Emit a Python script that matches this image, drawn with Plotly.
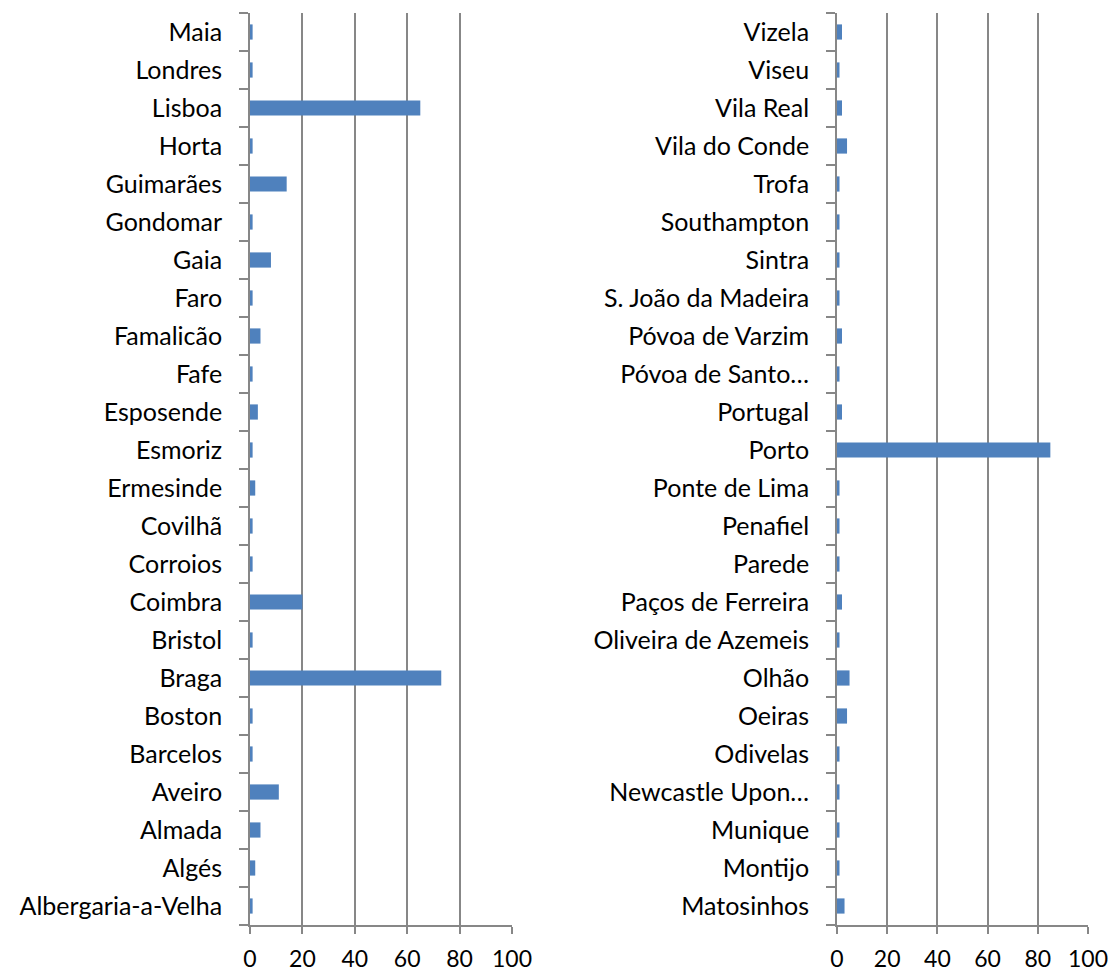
import plotly.graph_objects as go

# Cities A–Ma (listed bottom to top)
cities_left = [
    "Albergaria-a-Velha", "Algés", "Almada", "Aveiro", "Barcelos", "Boston",
    "Braga", "Bristol", "Coimbra", "Corroios", "Covilhã", "Ermesinde",
    "Esmoriz", "Esposende", "Fafe", "Famalicão", "Faro", "Gaia", "Gondomar",
    "Guimarães", "Horta", "Lisboa", "Londres", "Maia",
]
counts_left = [1, 2, 4, 11, 1, 1, 73, 1, 20, 1, 1, 2, 1, 3, 1, 4, 1, 8, 1, 14, 1, 65, 1, 1]

# Cities Ma–Z (listed bottom to top)
cities_right = [
    "Matosinhos", "Montijo", "Munique", "Newcastle Upon…", "Odivelas", "Oeiras",
    "Olhão", "Oliveira de Azemeis", "Paços de Ferreira", "Parede", "Penafiel",
    "Ponte de Lima", "Porto", "Portugal", "Póvoa de Santo…", "Póvoa de Varzim",
    "S. João da Madeira", "Sintra", "Southampton", "Trofa", "Vila do Conde",
    "Vila Real", "Viseu", "Vizela",
]
counts_right = [3, 1, 1, 1, 1, 4, 5, 1, 2, 1, 1, 1, 85, 2, 1, 2, 1, 1, 1, 1, 4, 2, 1, 2]

x_ticks = [0, 20, 40, 60, 80, 100]

W, H = 1109, 970
BAR = "#4F81BD"
GRID = "#878787"
FONT = "Lato"

fig = go.Figure()
fig.add_trace(go.Bar(x=counts_left, y=cities_left, orientation="h",
                     marker=dict(color=BAR, line=dict(width=0)),
                     xaxis="x", yaxis="y", showlegend=False))
fig.add_trace(go.Bar(x=counts_right, y=cities_right, orientation="h",
                     marker=dict(color=BAR, line=dict(width=0)),
                     xaxis="x2", yaxis="y2", showlegend=False))

def px_x(p):
    return p / W

def px_y(p):
    return 1 - p / H

x_common = dict(
    range=[0, 100], tickvals=x_ticks, ticktext=[str(v) for v in x_ticks],
    showgrid=True, gridcolor=GRID, gridwidth=1.8,
    showline=True, linecolor=GRID, linewidth=1.8,
    ticks="outside", ticklen=7, tickcolor=GRID, tickwidth=1.8,
    tickfont=dict(family=FONT, size=23, color="#000000"),
    ticklabelstandoff=5, zeroline=False, fixedrange=True, automargin=False,
)
y_common = dict(
    type="category", tickson="boundaries",
    showgrid=False, showline=True, linecolor=GRID, linewidth=1.8,
    ticks="outside", ticklen=9, tickcolor=GRID, tickwidth=1.8,
    tickfont=dict(family=FONT, size=25, color="#000000"),
    ticklabelstandoff=21, fixedrange=True, automargin=False,
)

fig.update_layout(
    width=W, height=H, autosize=False,
    margin=dict(l=0, r=0, t=0, b=0),
    paper_bgcolor="white", plot_bgcolor="white",
    bargap=0.6,
    xaxis=dict(domain=[px_x(250), px_x(512)], anchor="y", **x_common),
    yaxis=dict(domain=[px_y(925), px_y(13)], anchor="x", **y_common),
    xaxis2=dict(domain=[px_x(837), px_x(1088)], anchor="y2", **x_common),
    yaxis2=dict(domain=[px_y(925), px_y(13)], anchor="x2", **y_common),
)

fig.write_html("out.html")
